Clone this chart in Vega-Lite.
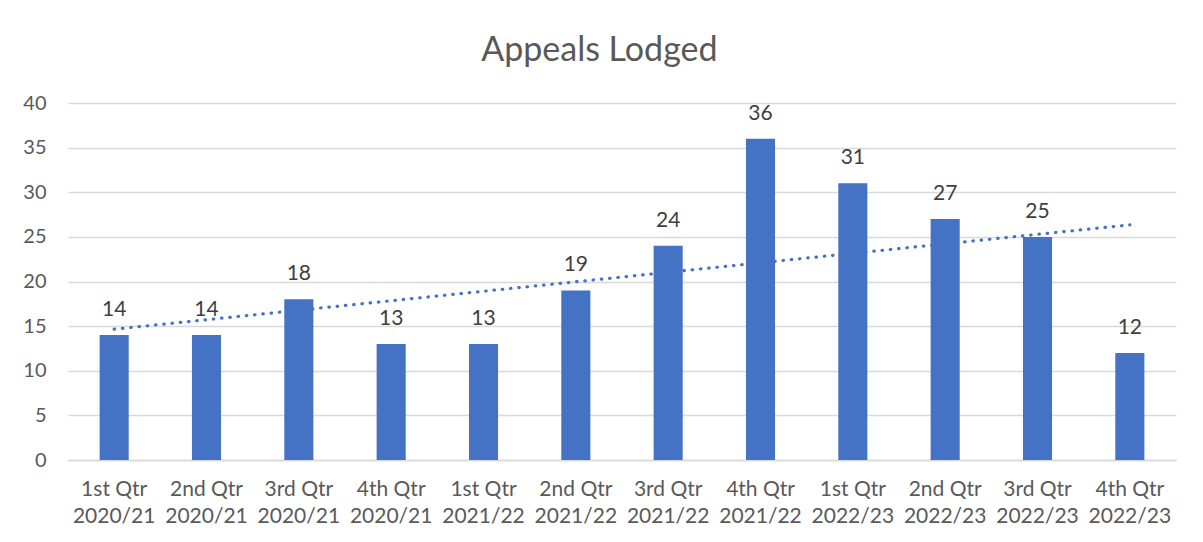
{
  "$schema": "https://vega.github.io/schema/vega-lite/v6.json",
  "width": 1108,
  "height": 357,
  "autosize": "none",
  "padding": {"left": 68, "top": 103, "right": 27, "bottom": 82},
  "background": "white",
  "datasets": {
    "q": [
      {"i": 1, "label": "1st Qtr 2020/21", "value": 14},
      {"i": 2, "label": "2nd Qtr 2020/21", "value": 14},
      {"i": 3, "label": "3rd Qtr 2020/21", "value": 18},
      {"i": 4, "label": "4th Qtr 2020/21", "value": 13},
      {"i": 5, "label": "1st Qtr 2021/22", "value": 13},
      {"i": 6, "label": "2nd Qtr 2021/22", "value": 19},
      {"i": 7, "label": "3rd Qtr 2021/22", "value": 24},
      {"i": 8, "label": "4th Qtr 2021/22", "value": 36},
      {"i": 9, "label": "1st Qtr 2022/23", "value": 31},
      {"i": 10, "label": "2nd Qtr 2022/23", "value": 27},
      {"i": 11, "label": "3rd Qtr 2022/23", "value": 25},
      {"i": 12, "label": "4th Qtr 2022/23", "value": 12}
    ]
  },
  "data": {"name": "q"},
  "title": {
    "text": "Appeals Lodged",
    "fontSize": 34,
    "font": "Lato",
    "fontWeight": "normal",
    "color": "#595959",
    "anchor": "middle",
    "frame": "bounds",
    "offset": 25
  },
  "config": {
    "font": "Lato",
    "view": {"stroke": null},
    "axis": {"labelFont": "Lato", "labelColor": "#595959", "title": null, "ticks": false}
  },
  "encoding": {
    "x": {
      "field": "label",
      "type": "nominal",
      "scale": {
        "domain": ["1st Qtr 2020/21", "2nd Qtr 2020/21", "3rd Qtr 2020/21", "4th Qtr 2020/21", "1st Qtr 2021/22", "2nd Qtr 2021/22", "3rd Qtr 2021/22", "4th Qtr 2021/22", "1st Qtr 2022/23", "2nd Qtr 2022/23", "3rd Qtr 2022/23", "4th Qtr 2022/23"],
        "paddingInner": 0,
        "paddingOuter": 0
      },
      "axis": {
        "labelAngle": 0,
        "labelFontSize": 21,
        "labelPadding": 18,
        "labelLineHeight": 27,
        "domainColor": "#D9D9D9",
        "domainWidth": 1.5,
        "labelExpr": "[slice(datum.value, 0, 7), slice(datum.value, 8)]"
      }
    },
    "y": {
      "field": "value",
      "type": "quantitative",
      "scale": {"domain": [0, 40], "nice": false},
      "axis": {
        "values": [0, 5, 10, 15, 20, 25, 30, 35, 40],
        "labelFontSize": 20,
        "domain": false,
        "grid": true,
        "gridColor": "#D9D9D9",
        "gridWidth": 1.5,
        "labelPadding": 22
      }
    }
  },
  "layer": [
    {
      "transform": [
        {"regression": "value", "on": "i"},
        {"lookup": "i", "from": {"data": {"name": "q"}, "key": "i", "fields": ["label"]}}
      ],
      "mark": {"type": "line", "color": "#4472C4", "strokeWidth": 3.2, "strokeDash": [0.5, 7.8], "strokeCap": "round"}
    },
    {
      "mark": {"type": "bar", "color": "#4472C4", "width": {"band": 0.315}}
    },
    {
      "mark": {"type": "text", "baseline": "alphabetic", "dy": -19, "fontSize": 21, "color": "#404040", "font": "Lato"},
      "encoding": {"text": {"field": "value", "type": "quantitative"}}
    }
  ]
}
